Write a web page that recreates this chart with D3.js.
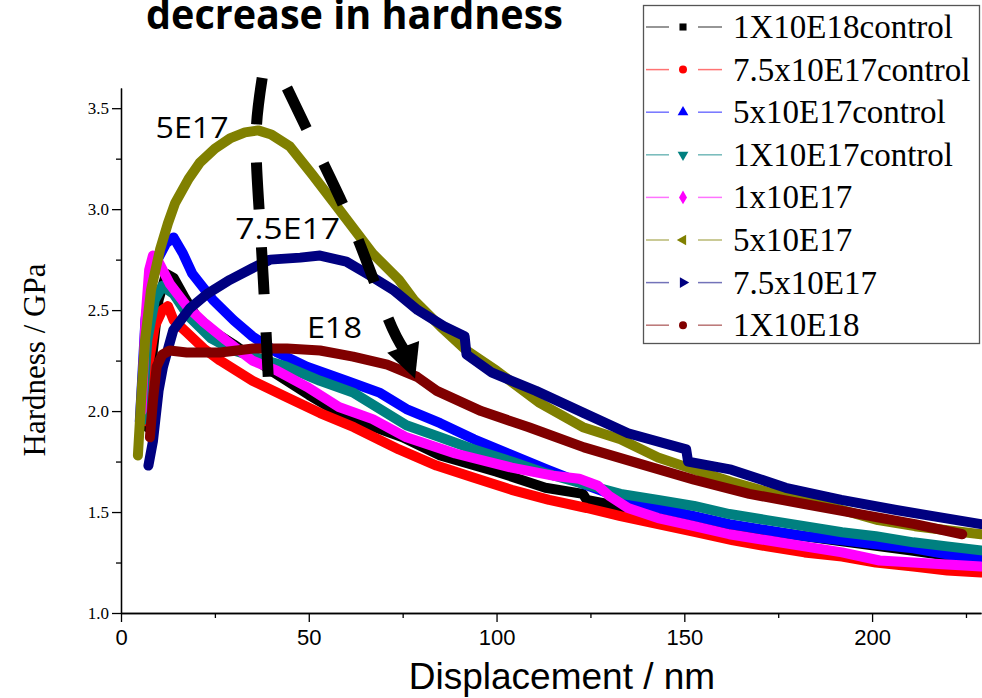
<!DOCTYPE html>
<html>
<head>
<meta charset="utf-8">
<script src="https://cdn.jsdelivr.net/npm/d3@7"></script>
<style>
  body { margin: 0; background: #fff; }
  svg { display: block; }
  .axis path, .axis line { stroke: #000; stroke-width: 1.3; }
  .ytick text { font-family: "Liberation Serif", "Times New Roman", serif; font-size: 17px; fill: #000; }
  .xtick text { font-family: "Liberation Sans Narrow", "Arial Narrow", "Liberation Sans", sans-serif; font-size: 22px; fill: #000; }
</style>
</head>
<body>
<div class="chart"></div>
<script>
// SERIES (displacement nm, hardness GPa) //
var ctrl1e18 = [[7,1.92],[8.5,2.30],[10,2.55],[12,2.68],[14,2.66],[17,2.56],[20,2.47],[25,2.39],[30,2.33],[40,2.20],[50,2.08],[60,1.97],[75,1.87],[85,1.78],[100,1.70],[113,1.62],[123,1.59],[124,1.56],[135,1.52],[151,1.47],[170,1.41],[190,1.36],[210,1.31],[229,1.26]];
var ctrl75e17 = [[6.5,1.95],[7.5,2.25],[9,2.42],[11,2.50],[12.5,2.52],[14,2.45],[17.5,2.39],[22,2.31],[26.4,2.25],[35,2.15],[44,2.07],[53,1.99],[62,1.92],[74,1.81],[84,1.73],[94,1.67],[104,1.61],[114,1.56],[124,1.52],[133,1.48],[143,1.44],[153,1.40],[163,1.36],[172,1.33],[182,1.30],[192,1.28],[201,1.25],[211,1.23],[220,1.21],[229,1.20]];
var ctrl5e17 = [[5,1.95],[6.5,2.45],[8,2.65],[10,2.76],[12,2.83],[14,2.86],[16.5,2.78],[19,2.68],[24.5,2.55],[30,2.45],[35,2.37],[41.6,2.29],[49.5,2.22],[60,2.15],[69,2.09],[76,2.01],[85,1.94],[94,1.86],[103,1.79],[113.5,1.71],[123,1.64],[133,1.57],[143,1.52],[152.6,1.48],[162,1.44],[172,1.41],[182,1.38],[192,1.36],[201,1.34],[211,1.32],[220,1.29],[229,1.27]];
var ctrl1e17 = [[5.5,1.95],[7,2.35],[9,2.55],[11,2.62],[14,2.58],[18,2.47],[24,2.36],[30,2.30],[44,2.22],[53,2.15],[62,2.09],[76,1.93],[85,1.87],[94,1.81],[104,1.75],[113.5,1.69],[123,1.64],[133,1.59],[143,1.56],[152.6,1.53],[162,1.49],[172,1.46],[182,1.43],[192,1.40],[201,1.38],[211,1.35],[220,1.33],[229,1.31]];
var dose1e17 = [[5.5,2.00],[6.5,2.45],[7.5,2.70],[8.5,2.77],[10,2.74],[13,2.63],[17.5,2.52],[22,2.44],[28,2.35],[35,2.25],[41.5,2.20],[49.5,2.12],[58,2.02],[67,1.96],[76,1.87],[89,1.79],[104,1.72],[115,1.68],[122,1.665],[127,1.63],[130,1.58],[135,1.52],[143,1.47],[152.6,1.43],[162,1.39],[172,1.36],[182,1.33],[192,1.30],[202,1.26],[211,1.25],[220,1.24],[229,1.23]];
var dose5e17 = [[4.5,1.78],[5.5,2.10],[6.4,2.35],[8,2.60],[10.4,2.80],[12.5,2.93],[14.4,3.03],[18,3.15],[21,3.23],[25,3.30],[29,3.35],[33,3.38],[36.5,3.39],[40,3.37],[45,3.31],[51,3.17],[58,3.00],[67,2.78],[74,2.65],[78,2.55],[85,2.42],[92,2.30],[100,2.20],[111.5,2.04],[123,1.92],[133,1.86],[143,1.77],[152.6,1.71],[162.5,1.65],[172,1.60],[182,1.56],[192,1.51],[201.6,1.46],[211.4,1.43],[220,1.41],[229,1.39]];
var dose75e17 = [[7.3,1.73],[8.5,1.85],[10,2.10],[11.2,2.22],[13.9,2.40],[18.4,2.51],[22.9,2.58],[29,2.65],[35.2,2.71],[39.7,2.75],[47.7,2.76],[53,2.77],[60,2.74],[65.5,2.68],[72.5,2.60],[79,2.50],[86,2.42],[91.5,2.37],[92,2.28],[98.8,2.19],[110.5,2.10],[123.3,1.99],[135,1.89],[150.5,1.81],[151,1.75],[162.5,1.71],[177,1.62],[191.8,1.56],[206.4,1.51],[229,1.44]];
var dose1e18 = [[7.7,1.87],[8.5,2.05],[9.5,2.22],[11,2.28],[13,2.30],[17.5,2.29],[26.4,2.29],[35.2,2.31],[44.2,2.31],[53,2.30],[61.8,2.27],[70.9,2.23],[78.8,2.17],[84.1,2.10],[95.9,2.00],[108.6,1.92],[123.3,1.82],[138,1.74],[152.6,1.66],[167.3,1.59],[182,1.54],[196.7,1.49],[211.4,1.44],[224,1.39]];

var seriesNames = ['1X10E18control', '7.5x10E17control', '5x10E17control', '1X10E17control', '1x10E17', '5x10E17', '7.5x10E17', '1X10E18'];
var seriesColors = ['#000000', '#ff0000', '#0000ff', '#008080', '#ff00ff', '#808000', '#000080', '#800000'];
var seriesSymbols = ['square', 'circle', 'up', 'down', 'diamond', 'left', 'right', 'circle'];
var xTicks = [0, 50, 100, 150, 200];
var xMinor = [25, 75, 125, 175, 225];
var yTicks = [1.0, 1.5, 2.0, 2.5, 3.0, 3.5];
var yMinor = [1.25, 1.75, 2.25, 2.75, 3.25];

// annotation curves (nm, GPa)
var leftBranch = [[37.6,3.65],[36.0,3.38],[36.6,3.05],[37.9,2.65],[39.2,2.17]];
var rightBranch = [[44.2,3.60],[53.8,3.23],[62.9,2.86],[71.1,2.46],[75.5,2.30]];
var arrowTip = [78.3, 2.16];
var peakLabels = [
    {text: '5E17', x: 9.2, y: 3.35, w: 73},
    {text: '7.5E17', x: 30.4, y: 2.85, w: 105},
    {text: 'E18', x: 49.5, y: 2.36, w: 55}
];

var allSeries = [ctrl1e18, ctrl75e17, ctrl5e17, ctrl1e17, dose1e17, dose5e17, dose75e17, dose1e18];

var width = 982, height = 698;

var svg = d3.select('.chart').append('svg')
    .attr('width', width)
    .attr('height', height);

var x = d3.scaleLinear().domain([0, 229]).range([121, 981]);
var y = d3.scaleLinear().domain([1.0, 3.6]).range([613, 88]);

// AXES //
svg.append('g')
    .attr('class', 'axis xtick')
    .attr('transform', 'translate(0,613)')
    .call(d3.axisBottom(x).tickValues(xTicks).tickSize(9).tickSizeOuter(0).tickPadding(7));

svg.append('g')
    .attr('class', 'axis')
    .attr('transform', 'translate(0,613)')
    .call(d3.axisBottom(x).tickValues(xMinor).tickSize(5).tickSizeOuter(0).tickFormat(''));

svg.append('g')
    .attr('class', 'axis ytick')
    .attr('transform', 'translate(121,0)')
    .call(d3.axisLeft(y).tickValues(yTicks).tickSize(9).tickSizeOuter(0).tickPadding(3).tickFormat(d3.format('.1f')));

svg.append('g')
    .attr('class', 'axis')
    .attr('transform', 'translate(121,0)')
    .call(d3.axisLeft(y).tickValues(yMinor).tickSize(5).tickSizeOuter(0).tickFormat(''));

svg.append('text')
    .attr('x', 562).attr('y', 689)
    .attr('text-anchor', 'middle')
    .style('font-family', '"Liberation Sans", Arial, sans-serif')
    .style('font-size', '37px')
    .text('Displacement / nm');

svg.append('text')
    .attr('transform', 'translate(45,360) rotate(-90)')
    .attr('text-anchor', 'middle')
    .style('font-family', '"Liberation Serif", "Times New Roman", serif')
    .style('font-size', '31px')
    .text('Hardness / GPa');

// SERIES //
var line = d3.line()
    .x(function(d) { return x(d[0]); })
    .y(function(d) { return y(d[1]); });

svg.append('defs').append('clipPath').attr('id', 'plot-clip')
    .append('rect').attr('x', 121).attr('y', 0).attr('width', 861).attr('height', 613);

var plot = svg.append('g').attr('clip-path', 'url(#plot-clip)');

allSeries.forEach(function(s, i) {
    plot.append('path')
        .datum(s)
        .attr('fill', 'none')
        .attr('stroke', seriesColors[i])
        .attr('stroke-width', 10)
        .attr('stroke-linejoin', 'round')
        .attr('stroke-linecap', 'round')
        .attr('d', line);
});

// ANNOTATIONS //
var curve = d3.line()
    .x(function(d) { return x(d[0]); })
    .y(function(d) { return y(d[1]); })
    .curve(d3.curveNatural);

svg.append('path')
    .datum(leftBranch)
    .attr('fill', 'none')
    .attr('stroke', '#000')
    .attr('stroke-width', 11)
    .attr('stroke-dasharray', '47 38')
    .attr('d', curve);

svg.append('path')
    .datum(rightBranch)
    .attr('fill', 'none')
    .attr('stroke', '#000')
    .attr('stroke-width', 11)
    .attr('stroke-dasharray', '45 39')
    .attr('d', curve);

// arrow head pointing along the last segment
var last = rightBranch[rightBranch.length - 1];
var tx = x(arrowTip[0]), ty = y(arrowTip[1]);
var ang = Math.atan2(ty - y(last[1]), tx - x(last[0]));
var headLen = 34, headHalf = 17;
var bx = tx - headLen * Math.cos(ang), by = ty - headLen * Math.sin(ang);
svg.append('path')
    .attr('fill', '#000')
    .attr('d', 'M' + tx + ',' + ty +
        'L' + (bx + headHalf * Math.sin(ang)) + ',' + (by - headHalf * Math.cos(ang)) +
        'L' + (bx - headHalf * Math.sin(ang)) + ',' + (by + headHalf * Math.cos(ang)) + 'Z');

svg.selectAll('.peak-label')
    .data(peakLabels)
    .enter().append('text')
    .attr('class', 'peak-label')
    .attr('x', function(d) { return x(d.x); })
    .attr('y', function(d) { return y(d.y); })
    .attr('textLength', function(d) { return d.w; })
    .attr('lengthAdjust', 'spacingAndGlyphs')
    .style('font-family', '"Open Sans", sans-serif')
    .style('font-size', '30px')
    .text(function(d) { return d.text; });

// title, sitting at the top edge like the slide
svg.append('text')
    .attr('x', 146).attr('y', 29)
    .attr('textLength', 417)
    .attr('lengthAdjust', 'spacingAndGlyphs')
    .style('font-family', '"Open Sans", sans-serif')
    .style('font-weight', 'bold')
    .style('font-size', '42px')
    .text('decrease in hardness');

// LEGEND //
var legend = svg.append('g').attr('class', 'legend');
legend.append('rect')
    .attr('x', 643.5).attr('y', 5.5)
    .attr('width', 336).attr('height', 338)
    .attr('fill', '#fff')
    .attr('stroke', '#555')
    .attr('stroke-width', 1.3);

var symbolType = {
    square: d3.symbolSquare, circle: d3.symbolCircle, diamond: d3.symbolDiamond,
    up: d3.symbolTriangle, down: d3.symbolTriangle, left: d3.symbolTriangle, right: d3.symbolTriangle
};
var symbolRot = {up: 0, down: 180, left: -90, right: 90, square: 0, circle: 0, diamond: 0};

var rows = legend.selectAll('.row')
    .data(seriesNames)
    .enter().append('g')
    .attr('class', 'row')
    .attr('transform', function(d, i) { return 'translate(0,' + (27 + i * 42.6) + ')'; });

rows.append('line').attr('x1', 646).attr('x2', 669)
    .attr('stroke', function(d, i) { return seriesColors[i]; })
    .attr('stroke-opacity', 0.55).attr('stroke-width', 1.5);
rows.append('line').attr('x1', 698).attr('x2', 722)
    .attr('stroke', function(d, i) { return seriesColors[i]; })
    .attr('stroke-opacity', 0.55).attr('stroke-width', 1.5);
rows.append('path')
    .attr('transform', function(d, i) { return 'translate(683,0) rotate(' + symbolRot[seriesSymbols[i]] + ')'; })
    .attr('d', function(d, i) { return d3.symbol().type(symbolType[seriesSymbols[i]]).size(seriesSymbols[i] === 'diamond' ? 55 : 50)(); })
    .attr('fill', function(d, i) { return seriesColors[i]; });
rows.append('text')
    .attr('x', 733).attr('y', 11)
    .style('font-family', '"Liberation Serif", "Times New Roman", serif')
    .style('font-size', '33px')
    .text(function(d) { return d; });
</script>
</body>
</html>
